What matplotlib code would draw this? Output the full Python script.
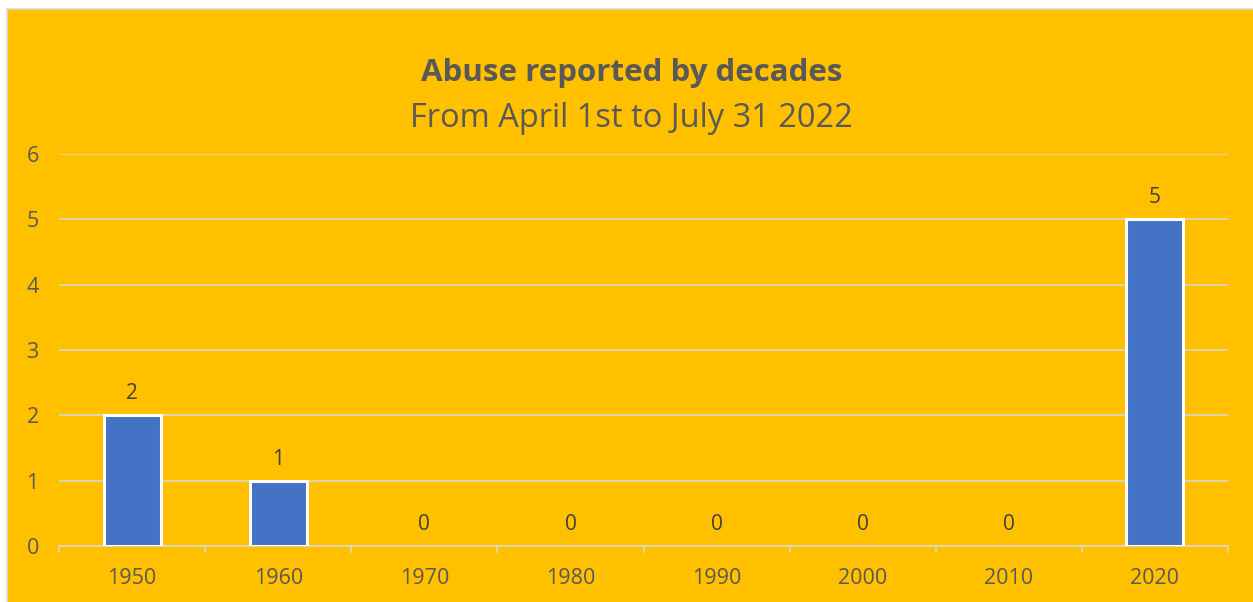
import matplotlib.pyplot as plt
from matplotlib.patches import Rectangle

decades = ["1950", "1960", "1970", "1980", "1990", "2000", "2010", "2020"]
counts = [2, 1, 0, 0, 0, 0, 0, 5]

title = "Abuse reported by decades"
subtitle = "From April 1st to July 31 2022"

gold = "#FFC000"
bar_blue = "#4472C4"
grid_grey = "#D9D9D9"
text_grey = "#595959"

plt.rcParams["font.family"] = ["Open Sans", "DejaVu Sans"]
fig = plt.figure(figsize=(12.53, 6.02), dpi=100, facecolor="white")

# chart area background with thin grey border on the left / top
fig.patches.append(Rectangle((6.5 / 1253, -0.01), 1.02, 1 - 9 / 602 + 0.01,
                             transform=fig.transFigure, facecolor=gold,
                             edgecolor=grid_grey, linewidth=1.2, zorder=-5))

ax = fig.add_axes([59 / 1253, 1 - 546 / 602, (1228 - 59) / 1253, (546 - 154) / 602])
ax.set_facecolor("none")

x = range(len(decades))
bars = ax.bar(x, counts, width=0.39, color=bar_blue, edgecolor="white",
              linewidth=2.2, zorder=3)
for b, v in zip(bars, counts):
    if v == 0:
        b.set_linewidth(0)

for xi, v in zip(x, counts):
    ax.annotate(str(v), (xi, v), xytext=(0, 8), textcoords="offset points",
                ha="center", va="bottom", fontsize=15, color="#404040")

ax.set_xlim(-0.5, len(decades) - 0.5)
ax.set_ylim(0, 6)
ax.set_yticks(range(7))
ax.yaxis.grid(True, color=grid_grey, linewidth=1.1, zorder=0)
ax.set_axisbelow(True)

ax.set_xticks(list(x))
ax.set_xticklabels(decades)
ax.set_xticks([i - 0.5 for i in range(len(decades) + 1)], minor=True)
ax.tick_params(axis="x", which="major", length=0, pad=16, labelsize=15.5, labelcolor=text_grey)
ax.tick_params(axis="x", which="minor", length=5, width=1.1, color=grid_grey)
ax.tick_params(axis="y", length=0, pad=19, labelsize=15.5, labelcolor=text_grey)
for lbl in ax.get_yticklabels():
    lbl.set_horizontalalignment("center")

for side in ["top", "right", "left"]:
    ax.spines[side].set_visible(False)
ax.spines["bottom"].set_color(grid_grey)
ax.spines["bottom"].set_linewidth(1.1)

fig.text(0.504, 1 - 73 / 602, title, ha="center", va="center",
         fontsize=22.5, fontweight="bold", color=text_grey)
fig.text(0.504, 1 - 118 / 602, subtitle, ha="center", va="center",
         fontsize=23.5, color=text_grey)

fig.savefig("out.png", dpi=100, facecolor=fig.get_facecolor())
